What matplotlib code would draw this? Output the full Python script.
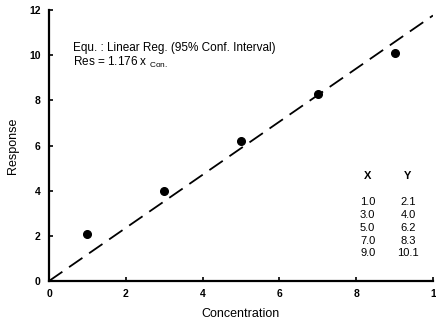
import matplotlib
matplotlib.use("Agg")
import matplotlib.pyplot as plt
import numpy as np

plt.rcParams['font.family'] = ['Liberation Sans', 'DejaVu Sans']

conc = [1.0, 3.0, 5.0, 7.0, 9.0]
resp = [2.1, 4.0, 6.2, 8.3, 10.1]
slope = 1.176
x_ticks = [0, 2, 4, 6, 8, 10]
x_tick_labels = ['0', '2', '4', '6', '8', '1']
y_ticks = [0, 2, 4, 6, 8, 10, 12]

fig = plt.figure(figsize=(4.36, 3.25), dpi=100)
ax = fig.add_axes([0.1124, 0.1354, 0.8806, 0.8336])

xf = np.array([0.0, 10.0])
ax.plot(xf, slope * xf, color='black', lw=1.3, dashes=(9, 4.5))
ax.plot(conc, resp, 'o', color='black', ms=5.5)

ax.set_xlim(0, 10)
ax.set_ylim(0, 12)
ax.set_xticks(x_ticks)
ax.set_xticklabels(x_tick_labels)
ax.set_yticks(y_ticks)
for s in ['top', 'right']:
    ax.spines[s].set_visible(False)
for s in ['left', 'bottom']:
    ax.spines[s].set_linewidth(1.6)
ax.tick_params(direction='in', length=3, width=1.2, labelsize=7.5, pad=6)
for lab in ax.get_xticklabels() + ax.get_yticklabels():
    lab.set_fontweight('bold')

ax.set_xlabel('Concentration', fontsize=9, labelpad=6)
ax.set_ylabel('Response', fontsize=9, labelpad=7)

ax.text(0.62, 10.32, 'Equ. : Linear Reg. (95% Conf. Interval)', fontsize=8.5, va='center')
ax.text(0.62, 9.70, r'Res = 1.176 x $_{\mathregular{Con.}}$', fontsize=8.5, va='center')

# data table
tx, ty = 8.3, 9.35
ax.text(tx, 4.65, 'X', fontsize=8, fontweight='bold', ha='center', va='center')
ax.text(ty, 4.65, 'Y', fontsize=8, fontweight='bold', ha='center', va='center')
for i, (c, r) in enumerate(zip(conc, resp)):
    yy = 3.50 - i * 0.57
    ax.text(tx, yy, f'{c:.1f}', fontsize=8, ha='center', va='center')
    ax.text(ty, yy, f'{r:.1f}', fontsize=8, ha='center', va='center')

fig.savefig('out.png', dpi=100)
